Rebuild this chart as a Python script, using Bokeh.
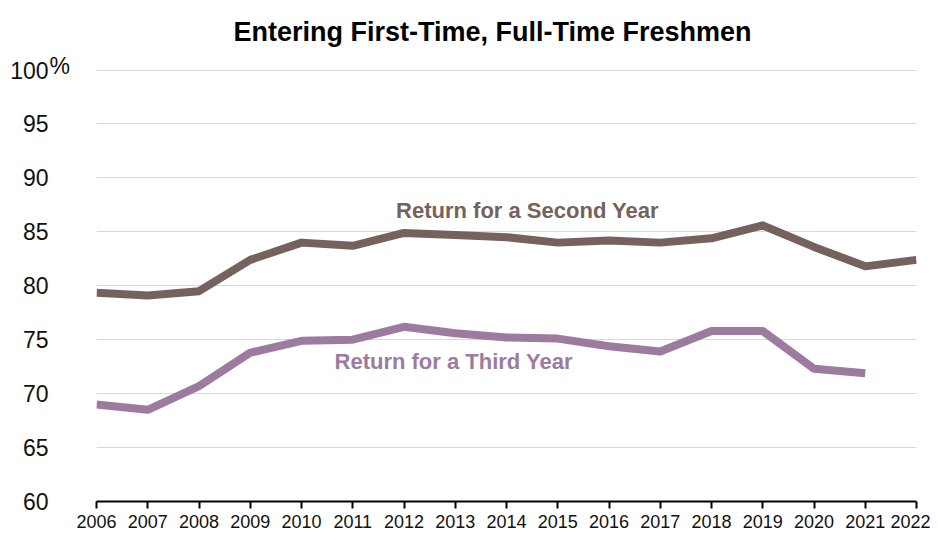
from bokeh.plotting import figure
from bokeh.models import ColumnDataSource, FixedTicker, Label, Range1d, Title
from bokeh.embed import file_html
from bokeh.resources import INLINE

years = list(range(2006, 2023))
second_year = [79.35, 79.1, 79.5, 82.4, 84.0, 83.7, 84.9, 84.7, 84.5, 84.0, 84.2, 84.0, 84.4, 85.6, 83.6, 81.8, 82.4]
third_years = list(range(2006, 2022))
third_year = [69.0, 68.5, 70.7, 73.8, 74.9, 75.0, 76.2, 75.6, 75.2, 75.1, 74.4, 73.9, 75.8, 75.8, 72.3, 71.9]
y_ticks = [60, 65, 70, 75, 80, 85, 90, 95, 100]
title_text = "Entering First-Time, Full-Time Freshmen"
label_second = "Return for a Second Year"
label_third = "Return for a Third Year"

FONT = "Liberation Sans"
C2 = "#76625c"
C3 = "#9c7b9f"

p = figure(width=930, height=538, output_backend="svg", toolbar_location=None,
           x_range=Range1d(2006, 2022), y_range=Range1d(60, 100.05),
           min_border_left=96, min_border_right=14, min_border_top=69, min_border_bottom=37)
p.outline_line_color = None
p.background_fill_color = "white"
p.border_fill_color = "white"

# main title (outer)
p.title.text = title_text
p.title.align = "left"
p.title.offset = 137
p.title.standoff = 27
p.title.text_font = FONT
p.title.text_font_size = "27px"
p.title.text_font_style = "bold"
p.title.text_color = "black"

# inner "title": the % sign of the 100 tick label
p.add_layout(Title(text="%", align="left", offset=-47, standoff=-19, text_font=FONT, text_font_size="23px",
                   text_font_style="normal", text_color="#111111"), "above")

src2 = ColumnDataSource(dict(x=years, y=second_year))
src3 = ColumnDataSource(dict(x=third_years, y=third_year))
p.line("x", "y", source=src2, line_color=C2, line_width=8, line_join="round")
p.line("x", "y", source=src3, line_color=C3, line_width=8, line_join="round")

# axes
p.xaxis.ticker = FixedTicker(ticks=years)
p.xaxis.axis_line_color = "black"
p.xaxis.axis_line_width = 2
p.xaxis.major_tick_line_color = "black"
p.xaxis.major_tick_line_width = 2
p.xaxis.major_tick_out = 7
p.xaxis.major_tick_in = 0
p.xaxis.minor_tick_line_color = None
p.xaxis.major_label_text_font = FONT
p.xaxis.major_label_text_font_size = "18px"
p.xaxis.major_label_text_color = "#111111"
p.xaxis.major_label_standoff = 6

p.yaxis.ticker = FixedTicker(ticks=y_ticks)
p.yaxis.axis_line_color = None
p.yaxis.major_tick_line_color = None
p.yaxis.minor_tick_line_color = None
p.yaxis.major_tick_out = 0
p.yaxis.major_tick_in = 0
p.yaxis.major_label_standoff = 48
p.yaxis.major_label_text_font = FONT
p.yaxis.major_label_text_font_size = "23px"
p.yaxis.major_label_text_color = "#111111"
p.yaxis.major_label_overrides = {100: "100"}

p.xgrid.grid_line_color = None
p.ygrid.ticker = FixedTicker(ticks=y_ticks[1:])
p.ygrid.grid_line_color = "#d9d9d9"
p.ygrid.grid_line_width = 1

p.add_layout(Label(x=2014.41, y=86.94, text=label_second, text_align="center", text_baseline="middle",
                   text_font=FONT, text_font_size="22px", text_font_style="bold", text_color=C2))
p.add_layout(Label(x=2012.97, y=72.96, text=label_third, text_align="center", text_baseline="middle",
                   text_font=FONT, text_font_size="22px", text_font_style="bold", text_color=C3))

open("out.html", "w").write(file_html(p, INLINE))
